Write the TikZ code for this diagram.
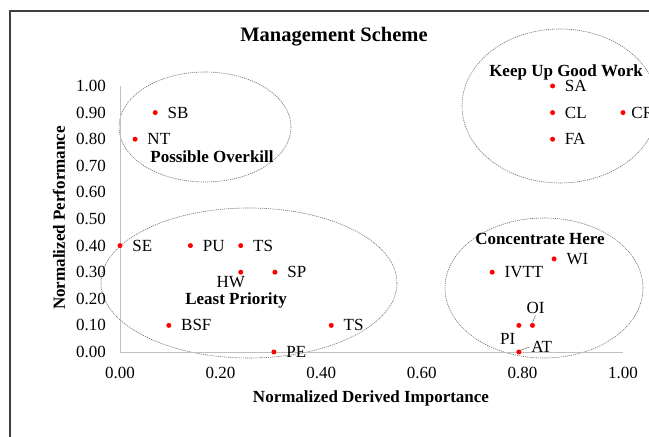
\documentclass[tikz,border=0pt]{standalone}
\usepackage{fontspec}
\setmainfont{Liberation Serif}
\usetikzlibrary{positioning}
\definecolor{axisgray}{HTML}{BFBFBF}
\definecolor{zonegray}{HTML}{6F6F6F}
\definecolor{frameink}{HTML}{404040}
\definecolor{dotred}{HTML}{FF0000}

\begin{document}
\begin{tikzpicture}[x=1bp,y=1bp,font=\fontsize{17bp}{20bp}\selectfont,
  dot/.style={circle,fill=dotred,inner sep=0pt,minimum size=5bp},
  lbl/.style={inner sep=1.5bp},
  zone/.style={draw=zonegray,line width=0.6bp,dash pattern=on 1.2bp off 0.9bp},
  zonetitle/.style={font=\fontsize{17bp}{20bp}\selectfont\bfseries,inner sep=0pt},
  tick/.style={inner sep=0pt},
  leader/.style={draw=zonegray,line width=0.5bp}]
  \useasboundingbox (0,0) rectangle (649,437);
  \clip (0,0) rectangle (649,437);
  \draw[frameink,line width=1.6bp] (10,0) -- (10,426) -- (649,426);
  % zones
  \draw[zone] (205,310) ellipse [x radius=86,y radius=55];
  \draw[zone] (560,331) ellipse [x radius=98,y radius=77];
  \draw[zone] (249,154) ellipse [x radius=148,y radius=75];
  \draw[zone] (544,149) ellipse [x radius=99,y radius=70];
  % titles
  \node[zonetitle,font=\fontsize{20.5bp}{24bp}\selectfont\bfseries] (title) at (334,400) {Management Scheme};
  \node[zonetitle] (xtitle) at (371,39) {Normalized Derived Importance};
  \node[zonetitle,rotate=90] (ytitle) at (59,219) {Normalized Performance};
  \node[zonetitle] (tover) at (212,280) {Possible Overkill};
  \node[zonetitle] (tkeep) at (566,365) {Keep Up Good Work};
  \node[zonetitle] (tleast) at (236,137) {Least Priority};
  \node[zonetitle] (tconc) at (540,198) {Concentrate Here};
  % plot area
  \begin{scope}[shift={(120,85)},x=503bp,y=266bp]
    \draw[axisgray,line width=0.8bp] (0,1) -- (0,0) -- (1,0);
    \foreach \t [count=\i from 0] in {0.00,0.10,0.20,0.30,0.40,0.50,0.60,0.70,0.80,0.90,1.00}
      \node[tick,anchor=east,xshift=-14bp] (yt\i) at (0,\i/10) {\t};
    \foreach \t [count=\i from 0] in {0.00,0.20,0.40,0.60,0.80,1.00}
      \node[tick,yshift=-21bp] (xt\i) at (\i/5,0) {\t};
    % points
    \node[dot] (sb) at (0.07,0.90) {};
    \node[dot] (nt) at (0.03,0.80) {};
    \node[dot] (sa) at (0.86,1.00) {};
    \node[dot] (cl) at (0.86,0.90) {};
    \node[dot] (fa) at (0.86,0.80) {};
    \node[dot] (cr) at (1.00,0.90) {};
    \node[dot] (se) at (0.00,0.40) {};
    \node[dot] (pu) at (0.14,0.40) {};
    \node[dot] (tsa) at (0.24,0.40) {};
    \node[dot] (hw) at (0.24,0.30) {};
    \node[dot] (sp) at (0.308,0.30) {};
    \node[dot] (bsf) at (0.097,0.10) {};
    \node[dot] (tsb) at (0.42,0.10) {};
    \node[dot] (pe) at (0.306,0.00) {};
    \node[dot] (wi) at (0.863,0.35) {};
    \node[dot] (ivtt) at (0.74,0.30) {};
    \node[dot] (oi) at (0.82,0.10) {};
    \node[dot] (pi) at (0.793,0.10) {};
    \node[dot] (at) at (0.793,0.00) {};
    \foreach \p/\t in {sb/SB,nt/NT,sa/SA,cl/CL,fa/FA,se/SE,pu/PU,tsa/TS,sp/SP,bsf/BSF,tsb/TS,pe/PE,wi/WI,ivtt/IVTT}
      \node[lbl,right=8bp of \p] (l\p) {\t};
    \node[lbl,right=4bp of cr] (lcr) {CR};
    \node[lbl,below=0bp of hw,xshift=-10bp] (lhw) {HW};
    \node[lbl,above=7bp of oi,xshift=3bp] (loi) {OI};
    \node[lbl,below left=4bp and 0bp of pi] (lpi) {PI};
    \node[lbl,right=8bp of at,yshift=5bp] (lat) {AT};
    \draw[leader] (loi.south) -- (oi.north);
    \draw[leader] (lat.west) -- (at.north east);
  \end{scope}
\end{tikzpicture}
\end{document}
